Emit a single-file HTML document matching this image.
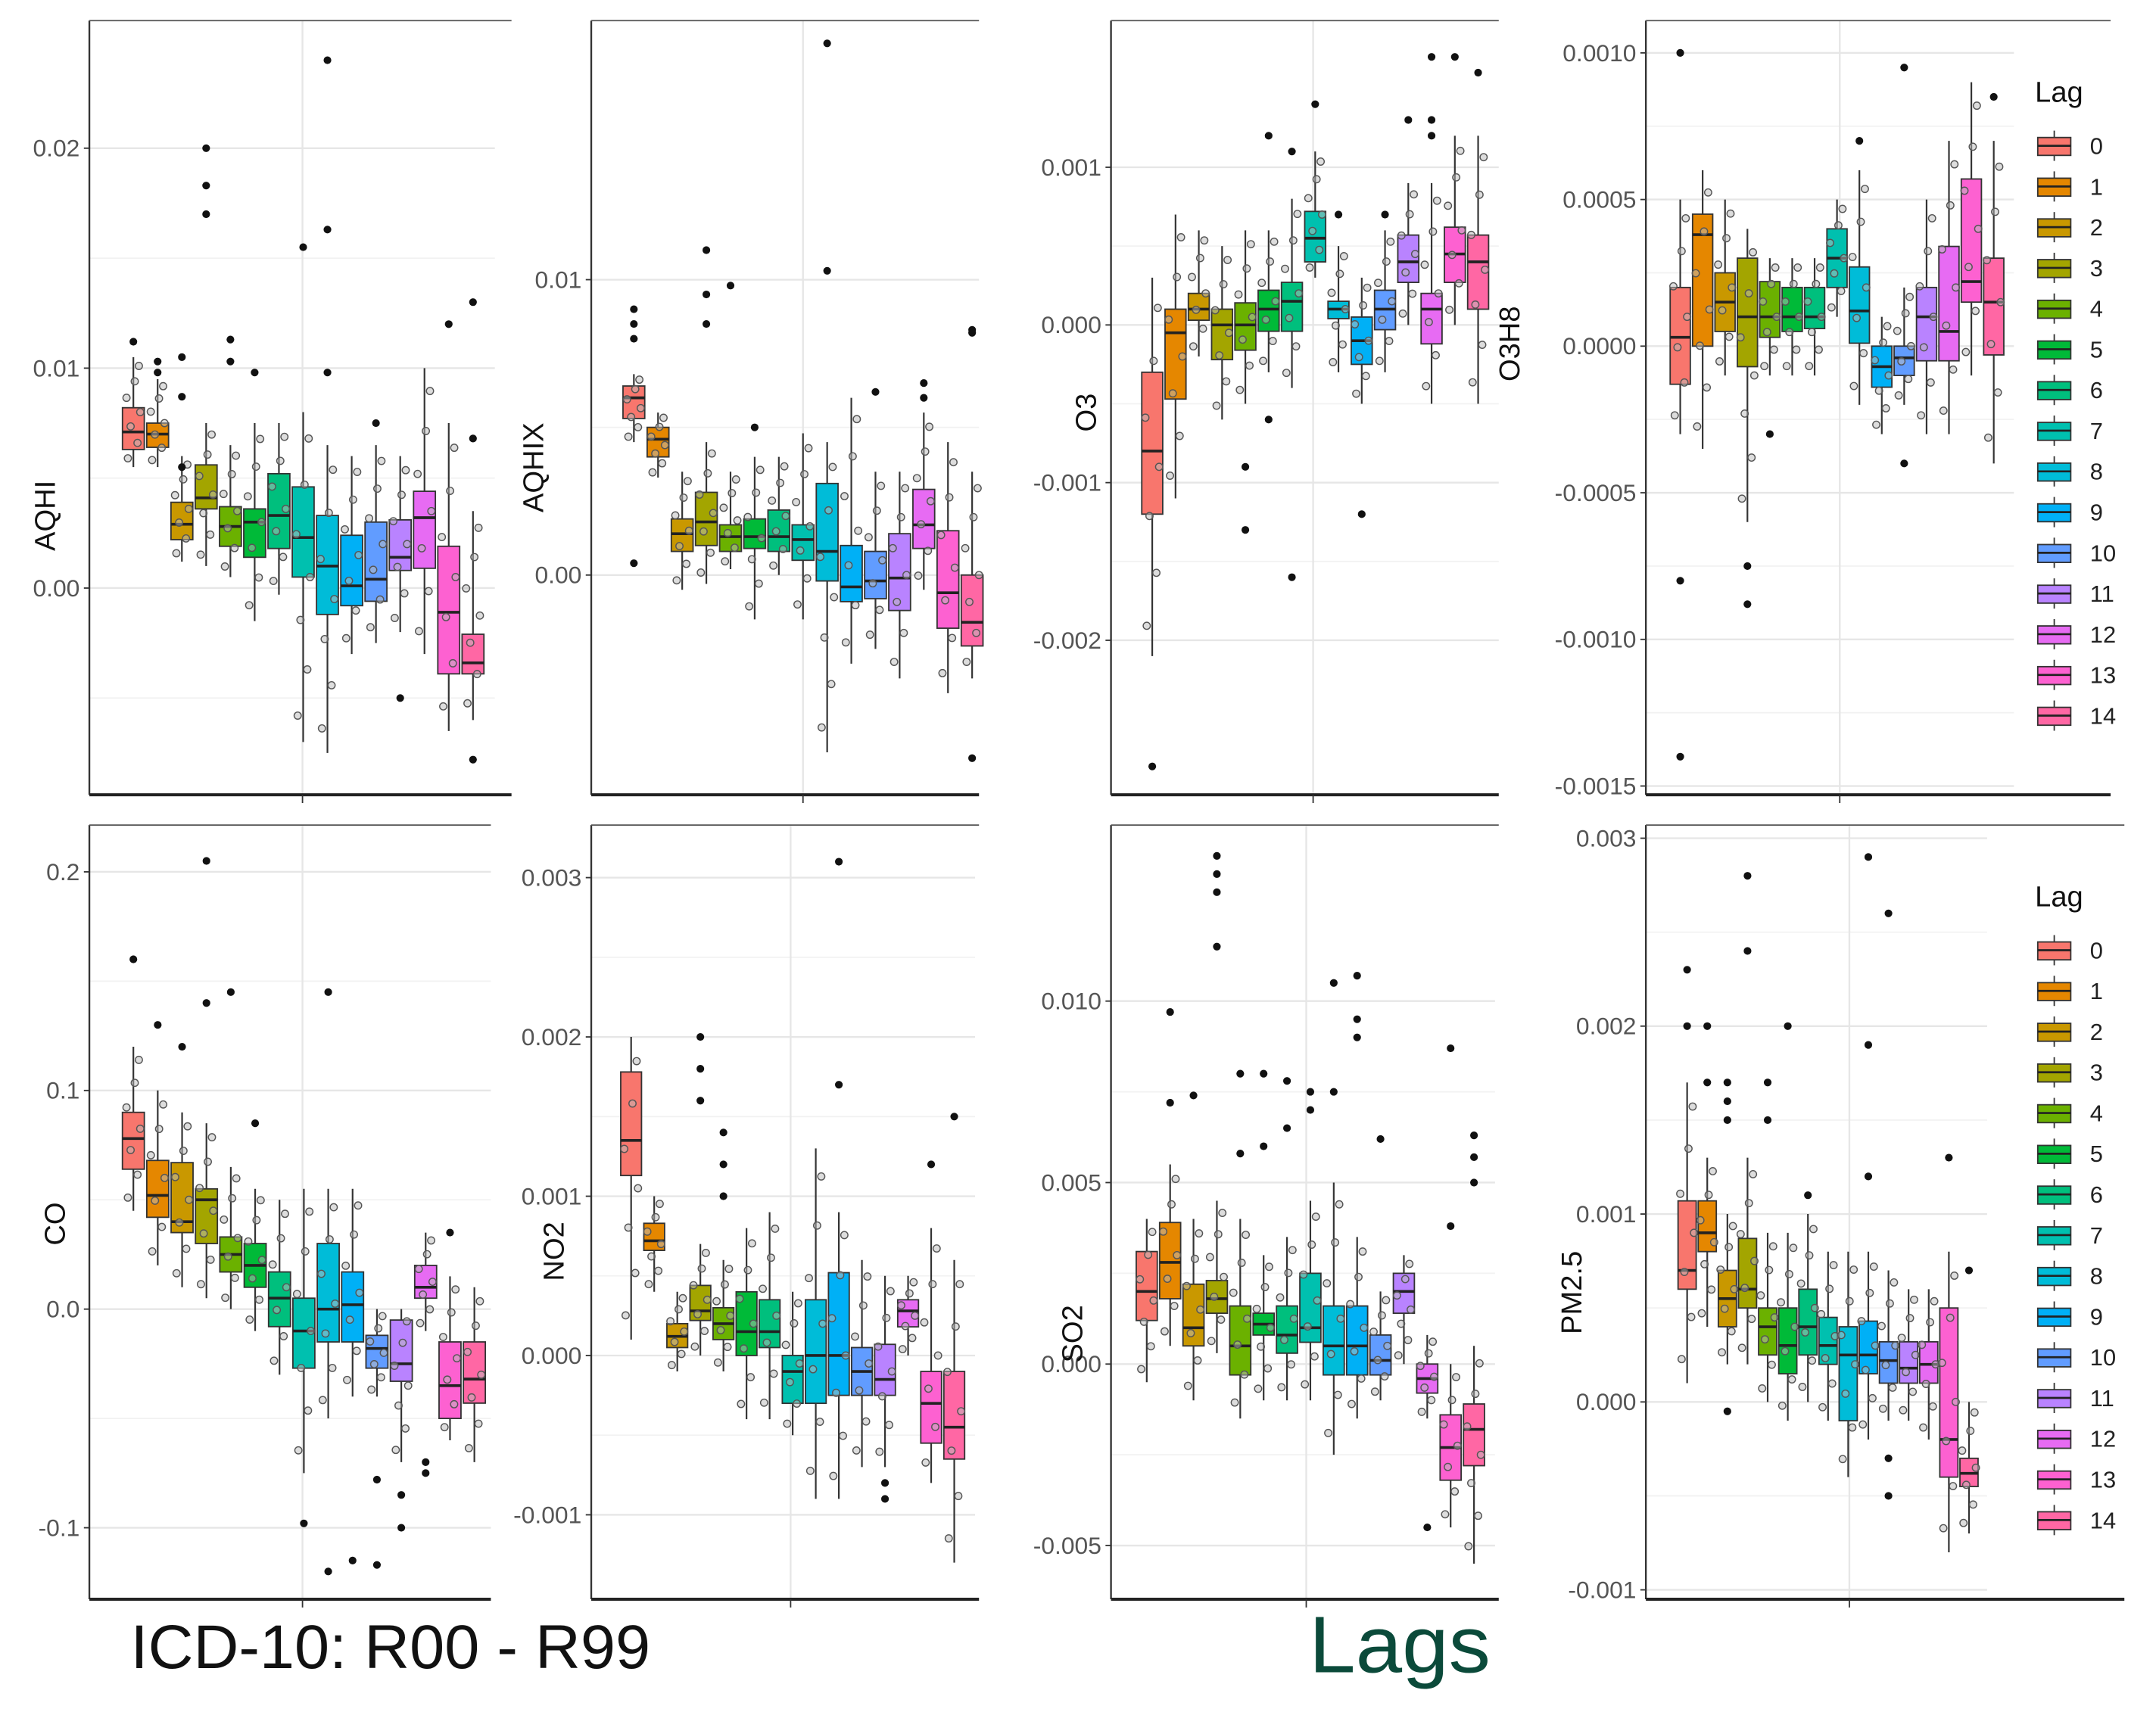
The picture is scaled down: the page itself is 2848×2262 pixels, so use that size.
<!DOCTYPE html>
<html><head><meta charset="utf-8"><style>
html,body{margin:0;padding:0;background:#fff;}
svg{display:block;font-family:"Liberation Sans",sans-serif;}
</style></head><body>
<svg id="chart" width="2848" height="2262" viewBox="0 0 1568 1245" preserveAspectRatio="none" xmlns="http://www.w3.org/2000/svg">
<text x="95" y="1213" font-size="45" fill="#111" textLength="378" lengthAdjust="spacingAndGlyphs">ICD-10: R00 - R99</text>
<text x="952" y="1216" font-size="58" fill="#0b4a3a" textLength="132" lengthAdjust="spacingAndGlyphs">Lags</text>
</svg>
<script>
const lags=[0,1,2,3,4,5,6,7,8,9,10,11,12,13,14];
const lagColors=["#F8766D","#E58700","#C99800","#A3A500","#6BB100","#00BA38","#00BF7D","#00C0AF","#00BCD8","#00B0F6","#619CFF","#B983FF","#E76BF3","#FD61D1","#FF67A4"];
// AQHI
const aqhiMed=[.0071,.007,.0029,.0041,.0028,.003,.0033,.0023,.001,.0001,.0004,.0014,.0032,-.0011,-.0034];
const aqhiQ1=[.0063,.0064,.0022,.0036,.0019,.0014,.0018,.0005,-.0012,-.0008,-.0006,.0008,.0009,-.0039,-.0039];
const aqhiQ3=[.0082,.0075,.0039,.0056,.0037,.0036,.0052,.0046,.0033,.0024,.003,.0031,.0044,.0019,-.0021];
const aqhiLo=[.0055,.0055,.0012,.001,.0005,-.0015,-.0003,-.007,-.0075,-.003,-.0025,-.002,-.003,-.0065,-.006];
const aqhiHi=[.0105,.0095,.006,.0075,.0065,.0075,.0075,.008,.0065,.006,.0065,.006,.01,.0075,.0035];
const aqhiOut=[[.0112],[.0103,.0098],[.0105,.0087,.0055],[.02,.0183,.017],[.0113,.0103],[.0098],[],[.0155],[.024,.0163,.0098],[],[.0075],[-.005],[],[.012],[.013,.0068,-.0078]];
// AQHIX
const aqhixMed=[.006,.0046,.0014,.0018,.0013,.0013,.0013,.0012,.0008,-.0004,-.0002,-.0001,.0017,-.0006,-.0016];
const aqhixQ1=[.0053,.004,.0008,.001,.0008,.0009,.0008,.0005,-.0002,-.0009,-.0008,-.0012,.0009,-.0018,-.0024];
const aqhixQ3=[.0064,.005,.0019,.0028,.0017,.0019,.0022,.0017,.0031,.001,.0008,.0014,.0029,.0015,0];
const aqhixLo=[.0045,.0033,-.0005,-.0003,.0002,-.0015,0,-.0015,-.006,-.003,-.0025,-.0035,-.0005,-.004,-.0035];
const aqhixHi=[.0068,.0055,.0035,.0045,.0035,.004,.004,.0048,.0045,.006,.0035,.0035,.0055,.0045,.0035];
const aqhixOut=[[.009,.0085,.008,.0004],[],[],[.011,.0095,.0085],[.0098],[.005],[],[],[.018,.0103],[],[.0062],[],[.0065,.006],[],[.0082,.0083,-.0062]];
// O3
const o3Med=[-.0008,-.00005,.0001,0,0,.0001,.00015,.00055,.0001,-.0001,.0001,.0004,.0001,.00045,.0004];
const o3Q1=[-.0012,-.00047,.00003,-.00022,-.00016,-.00004,-.00004,.0004,.00004,-.00025,-.00003,.00027,-.00012,.00027,.0001];
const o3Q3=[-.0003,.0001,.0002,.0001,.00014,.00022,.00027,.00072,.00015,.00005,.00022,.00057,.0002,.00062,.00057];
const o3Lo=[-.0021,-.0011,-.0002,-.0006,-.0005,-.0003,-.0004,.0003,-.0003,-.0005,-.0003,0,-.0005,0,-.0005];
const o3Hi=[.0003,.0007,.0006,.0005,.0006,.0006,.0008,.0011,.0005,.0003,.0006,.0009,.0009,.0012,.0012];
const o3Out=[[-.0028],[],[],[],[-.0009,-.0013],[.0012,-.0006],[.0011,-.0016],[.0014],[.0007],[-.0012],[.0007],[.0013],[.0017,.0013,.0012],[.0017],[.0016]];
// O3H8
const o3h8Med=[.00003,.00038,.00015,.0001,.0001,.0001,.0001,.0003,.00012,-.00007,-.00004,.0001,.00005,.00022,.00015];
const o3h8Q1=[-.00013,0,.00005,-.00007,.00003,.00005,.00006,.0002,.00001,-.00014,-.0001,-.00005,-.00005,.00015,-.00003];
const o3h8Q3=[.0002,.00045,.00025,.0003,.00022,.0002,.0002,.0004,.00027,0,0,.0002,.00034,.00057,.0003];
const o3h8Lo=[-.0003,-.00035,-.0001,-.0006,-.0001,-.0001,-.0001,.0001,-.0002,-.0003,-.0002,-.0003,-.0003,-.0001,-.0004];
const o3h8Hi=[.0005,.0006,.0005,.0004,.0003,.0003,.0003,.0005,.0006,.0001,.0002,.0005,.0007,.0009,.0007];
const o3h8Out=[[.001,-.0008,-.0014],[],[],[-.00075,-.00088],[-.0003],[],[],[],[.0007],[],[.00095,-.0004],[],[],[],[.00085]];
// CO
const coMed=[.078,.052,.04,.05,.025,.02,.005,-.01,0,.002,-.018,-.025,.01,-.035,-.032];
const coQ1=[.064,.042,.035,.03,.017,.01,-.008,-.027,-.015,-.015,-.027,-.033,.005,-.05,-.043];
const coQ3=[.09,.068,.067,.055,.033,.03,.017,.005,.03,.017,-.012,-.005,.02,-.015,-.015];
const coLo=[.045,.02,.01,.005,0,-.01,-.03,-.075,-.05,-.04,-.04,-.07,-.01,-.06,-.07];
const coHi=[.12,.1,.09,.085,.065,.055,.05,.055,.055,.055,0,0,.035,.015,.01];
const coOut=[[.16],[.13],[.12],[.205,.14],[.145],[.085],[],[-.098],[.145,-.12],[-.115],[-.078,-.117],[-.085,-.1],[-.07,-.075],[.035],[]];
// NO2
const no2Med=[.00135,.00072,.00012,.00028,.0002,.00015,.00015,-.0001,0,0,-.0001,-.00015,.00028,-.0003,-.00045];
const no2Q1=[.00113,.00066,.00005,.00022,.0001,0,.00005,-.0003,-.0003,-.00025,-.00025,-.00025,.00018,-.00055,-.00065];
const no2Q3=[.00178,.00083,.0002,.00044,.0003,.0004,.00035,0,.00035,.00052,.00005,.00007,.00035,-.0001,-.0001];
const no2Lo=[.0001,.0004,-.0001,0,-.0001,-.0004,-.0004,-.0005,-.0009,-.0009,-.0007,-.0007,0,-.0008,-.0013];
const no2Hi=[.002,.001,.0004,.0007,.0006,.0008,.0009,.0004,.0013,.0009,.0006,.0005,.0005,.0008,.0006];
const no2Out=[[],[],[],[.002,.0018,.0016],[.0014,.0012,.001],[],[],[],[],[.0031,.0017],[],[-.0009,-.0008],[],[.0012],[.0015]];
// SO2
const so2Med=[.002,.0028,.001,.0018,.0005,.0011,.0008,.001,.0005,.0005,.0001,.002,-.0004,-.0023,-.0018];
const so2Q1=[.0012,.0018,.0005,.0014,-.0003,.0008,.0003,.0006,-.0003,-.0003,-.0003,.0014,-.0008,-.0032,-.0028];
const so2Q3=[.0031,.0039,.0022,.0023,.0016,.0014,.0016,.0025,.0016,.0016,.0008,.0025,0,-.0014,-.0011];
const so2Lo=[-.0005,.0005,-.001,.0003,-.0015,-.001,-.001,-.001,-.0025,-.0015,-.001,0,-.0015,-.0045,-.0055];
const so2Hi=[.004,.0055,.004,.0045,.004,.003,.0035,.0045,.005,.0035,.002,.003,.0008,0,.0005];
const so2Out=[[],[.0097,.0072],[.0074],[.014,.0135,.013,.0115],[.008,.0058],[.008,.006],[.0078,.0065],[.0075,.007],[.0105,.0075],[.0107,.0095,.009],[.0062],[],[-.0045],[.0087,.0038],[.0063,.0057,.005]];
// PM2.5
const pmMed=[.0007,.0009,.00055,.0006,.0004,.0003,.0004,.0003,.00025,.00025,.00022,.00018,.0002,-.0002,-.00038];
const pmQ1=[.0006,.0008,.0004,.0005,.00025,.00015,.00025,.0002,-.0001,.00015,.0001,.0001,.0001,-.0004,-.00045];
const pmQ3=[.00107,.00107,.0007,.00087,.0005,.0005,.0006,.00045,.0004,.00043,.00032,.00032,.00032,.0005,-.0003];
const pmLo=[.0001,.0004,.0002,.0002,0,-.0001,0,-.0001,-.0004,-.0002,-.0001,-.0001,-.0002,-.0008,-.0007];
const pmHi=[.0017,.0013,.001,.0013,.0009,.0009,.001,.0008,.0008,.0008,.0007,.0006,.0006,.0008,0];
const pmOut=[[.0023,.002],[.002,.0017],[.0017,.0016,.0015,-.00005],[.0028,.0024],[.0017,.0015],[.002],[.0011],[],[],[.0029,.0019,.0012],[.0026,-.0003,-.0005],[],[],[.0013],[.0007]];

const aqhiTicks=[-0.01,0,0.01,0.02], aqhiTickLabels=["","0.00","0.01","0.02"];
const aqhixTicks=[0,0.01], aqhixTickLabels=["0.00","0.01"];
const o3Ticks=[-0.002,-0.001,0,0.001], o3TickLabels=["-0.002","-0.001","0.000","0.001"];
const o3h8Ticks=[-0.0015,-0.001,-0.0005,0,0.0005,0.001], o3h8TickLabels=["-0.0015","-0.0010","-0.0005","0.0000","0.0005","0.0010"];
const coTicks=[-0.1,0,0.1,0.2], coTickLabels=["-0.1","0.0","0.1","0.2"];
const no2Ticks=[-0.001,0,0.001,0.002,0.003], no2TickLabels=["-0.001","0.000","0.001","0.002","0.003"];
const so2Ticks=[-0.005,0,0.005,0.01], so2TickLabels=["-0.005","0.000","0.005","0.010"];
const pmTicks=[-0.001,0,0.001,0.002,0.003], pmTickLabels=["-0.001","0.000","0.001","0.002","0.003"];

const NS="http://www.w3.org/2000/svg";
const svg=document.getElementById('chart');
function el(tag,attrs,parent){const e=document.createElementNS(NS,tag);for(const k in attrs)e.setAttribute(k,attrs[k]);(parent||svg).appendChild(e);return e;}
const jf=[0.08,0.22,0.37,0.5,0.63,0.78,0.92];
const jx=[-4,3,-2,5,-5,1,4];

const panels=[
 {name:"aqhi",title:"AQHI",L:65,R:372,T:15,B:578,yTop:.0258,yBot:-.0094,c0:97,c1:344,gx:220,tx:40,ty:375,med:aqhiMed,q1:aqhiQ1,q3:aqhiQ3,lo:aqhiLo,hi:aqhiHi,out:aqhiOut,ticks:aqhiTicks,labels:aqhiTickLabels},
 {name:"aqhix",title:"AQHIX",L:430,R:712,T:15,B:578,yTop:.01877,yBot:-.00744,c0:461,c1:707,gx:584,tx:395,ty:340,med:aqhixMed,q1:aqhixQ1,q3:aqhixQ3,lo:aqhixLo,hi:aqhixHi,out:aqhixOut,ticks:aqhixTicks,labels:aqhixTickLabels},
 {name:"o3",title:"O3",L:808,R:1090,T:15,B:578,yTop:.00193,yBot:-.00298,c0:838,c1:1075,gx:955,tx:797,ty:300,med:o3Med,q1:o3Q1,q3:o3Q3,lo:o3Lo,hi:o3Hi,out:o3Out,ticks:o3Ticks,labels:o3TickLabels},
 {name:"o3h8",title:"O3H8",L:1197,R:1535,T:15,B:578,yTop:.00111,yBot:-.00153,c0:1222,c1:1450,gx:1338,tx:1105,ty:250,med:o3h8Med,q1:o3h8Q1,q3:o3h8Q3,lo:o3h8Lo,hi:o3h8Hi,out:o3h8Out,ticks:o3h8Ticks,labels:o3h8TickLabels},
 {name:"co",title:"CO",L:65,R:357,T:600,B:1163,yTop:.2214,yBot:-.1327,c0:97,c1:345,gx:220,tx:47,ty:890,med:coMed,q1:coQ1,q3:coQ3,lo:coLo,hi:coHi,out:coOut,ticks:coTicks,labels:coTickLabels},
 {name:"no2",title:"NO2",L:430,R:712,T:600,B:1163,yTop:.00333,yBot:-.00153,c0:459,c1:694,gx:575,tx:410,ty:910,med:no2Med,q1:no2Q1,q3:no2Q3,lo:no2Lo,hi:no2Hi,out:no2Out,ticks:no2Ticks,labels:no2TickLabels},
 {name:"so2",title:"SO2",L:808,R:1090,T:600,B:1163,yTop:.01485,yBot:-.00648,c0:834,c1:1072,gx:950,tx:787,ty:970,med:so2Med,q1:so2Q1,q3:so2Q3,lo:so2Lo,hi:so2Hi,out:so2Out,ticks:so2Ticks,labels:so2TickLabels},
 {name:"pm25",title:"PM2.5",L:1197,R:1545,T:600,B:1163,yTop:.00307,yBot:-.00105,c0:1227,c1:1432,gx:1345,tx:1150,ty:940,med:pmMed,q1:pmQ1,q3:pmQ3,lo:pmLo,hi:pmHi,out:pmOut,ticks:pmTicks,labels:pmTickLabels}
];

panels.forEach(p=>{
 const g=el('g',{});
 
 
 const y=v=>p.T+(p.yTop-v)/(p.yTop-p.yBot)*(p.B-p.T);
 const step=(p.c1-p.c0)/(lags.length-1);
 const x=i=>p.c0+i*step;
 const bw=step*0.9;
 const gridR=Math.min(p.R,p.c1+bw);
 p.ticks.forEach((t,k)=>{
  const yy=y(t);
  if(yy>p.T&&yy<p.B){
   const gl=el('line',{x1:p.L,x2:gridR,y1:yy,y2:yy,stroke:'#e6e6e6','stroke-width':1.3},g);
   
   
   if(p.labels[k]!==""){
    const tl=el('text',{x:p.L-7,y:yy+6,'text-anchor':'end','font-size':17.5,fill:'#555'},g);
    tl.textContent=p.labels[k];
    
    
    el('line',{x1:p.L-4,x2:p.L,y1:yy,y2:yy,stroke:'#333','stroke-width':1},g);
   }
  }
  if(k<p.ticks.length-1){
   const ym=y((t+p.ticks[k+1])/2);
   if(ym>p.T&&ym<p.B){const ml=el('line',{x1:p.L,x2:gridR,y1:ym,y2:ym,stroke:'#f2f2f2','stroke-width':1},g);
   
   }
  }
 });
 const vg=el('line',{x1:p.gx,x2:p.gx,y1:p.T,y2:p.B,stroke:'#e6e6e6','stroke-width':1.3},g);
 
 
 const ax=el('line',{x1:p.L,x2:p.L,y1:p.T,y2:p.B,stroke:'#333','stroke-width':1.3},g);
 
 
 const bx=el('line',{x1:p.L,x2:p.R,y1:p.B,y2:p.B,stroke:'#222','stroke-width':2.2},g);
 
 
 el('line',{x1:p.L,x2:p.R,y1:p.T,y2:p.T,stroke:'#555','stroke-width':1},g);
 el('line',{x1:p.gx,x2:p.gx,y1:p.B,y2:p.B+6,stroke:'#333','stroke-width':1},g);
 const tt=el('text',{x:p.tx,y:p.ty,'text-anchor':'middle','font-size':21,fill:'#111',transform:`rotate(-90 ${p.tx} ${p.ty})`},g);
 tt.textContent=p.title;
 
 
 lags.forEach((lag,i)=>{
  const cx=x(i);
  const bg=el('g',{},g);
  
  
  el('line',{x1:cx,x2:cx,y1:y(p.hi[i]),y2:y(p.lo[i]),stroke:'#333','stroke-width':1.2},bg);
  const r=el('rect',{x:cx-bw/2,y:y(p.q3[i]),width:bw,height:Math.max(1,y(p.q1[i])-y(p.q3[i])),fill:lagColors[i],stroke:'#333','stroke-width':1},bg);
  
  
  el('line',{x1:cx-bw/2,x2:cx+bw/2,y1:y(p.med[i]),y2:y(p.med[i]),stroke:'#222','stroke-width':2},bg);
  jf.forEach((f,k)=>{
   const v=p.lo[i]+f*(p.hi[i]-p.lo[i]);
   el('circle',{cx:cx+jx[k],cy:y(v),r:2.6,fill:'#bbb','fill-opacity':0.5,stroke:'#555','stroke-width':0.8},bg);
  });
  p.out[i].forEach(v=>{
   const o=el('circle',{cx:cx,cy:y(v),r:2.8,fill:'#111'},bg);
   
   
  });
 });
});

[{x:1480,y:68},{x:1480,y:653}].forEach((lg,li)=>{
 const g=el('g',{});
 
 
 el('rect',{x:lg.x-2,y:lg.y-24,width:66,height:480,fill:'#fff'},g);
 const t=el('text',{x:lg.x,y:lg.y+6,'font-size':21,fill:'#111'},g);
 t.textContent='Lag';
 
 
 lags.forEach((lag,i)=>{
  const cy=lg.y+38+i*29.6;
  const e=el('g',{},g);
  
  
  el('line',{x1:lg.x+14,x2:lg.x+14,y1:cy-11,y2:cy+11,stroke:'#333','stroke-width':1},e);
  el('rect',{x:lg.x+2,y:cy-6,width:24,height:13,fill:lagColors[i],stroke:'#333','stroke-width':1},e);
  el('line',{x1:lg.x+2,x2:lg.x+26,y1:cy,y2:cy,stroke:'#222','stroke-width':1.5},e);
  const tx=el('text',{x:lg.x+40,y:cy+6,'font-size':17,fill:'#222'},e);
  tx.textContent=String(lag);
 });
});
</script>
</body></html>
